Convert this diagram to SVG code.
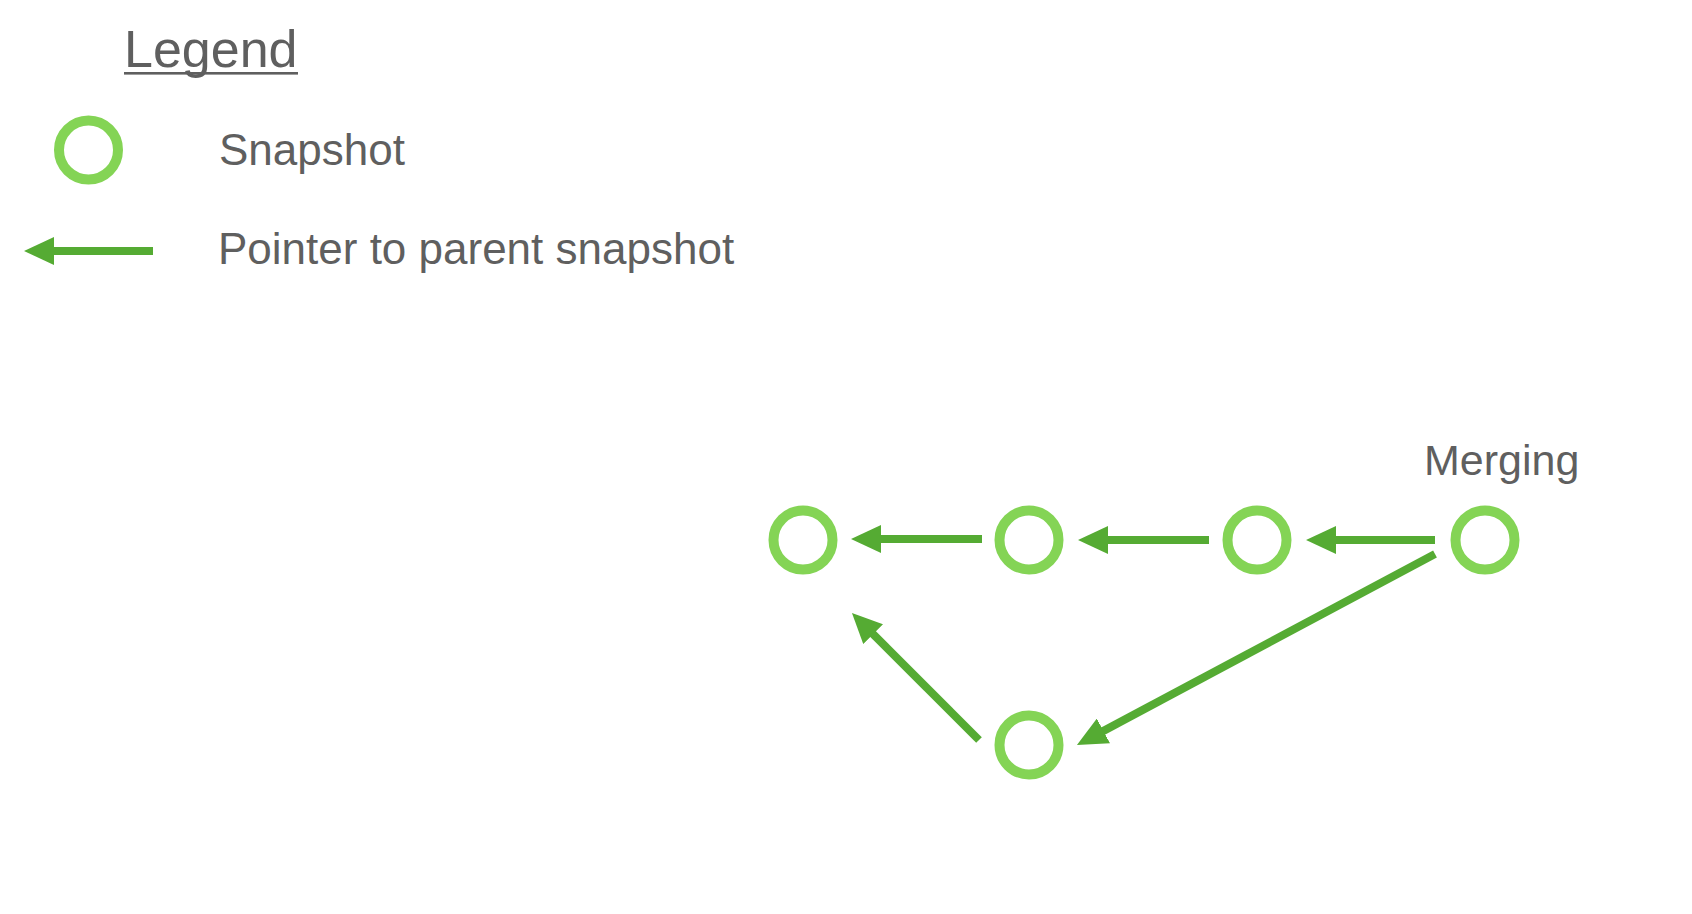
<svg xmlns="http://www.w3.org/2000/svg" width="1692" height="914" viewBox="0 0 1692 914">
<style>
.t{font-family:"Liberation Sans",Arial,sans-serif;fill:#5f5f5f}
.snap{fill:none;stroke:#84d455;stroke-width:10}
.ptr{stroke:#55ab33;stroke-width:8;fill:none}
</style>
<defs>
<marker id="ah" viewBox="0 0 30 28" refX="10" refY="14" markerWidth="30" markerHeight="28" markerUnits="userSpaceOnUse" orient="auto">
<path d="M0,0 L30,14 L0,28 z" fill="#55ab33" transform="rotate(0)"/>
</marker>
</defs>
<rect width="1692" height="914" fill="#ffffff"/>
<g id="legend">
<text class="t" x="124" y="67" font-size="52">Legend</text>
<rect x="124" y="72" width="174" height="2.6" fill="#5f5f5f"/>
<circle class="snap" cx="88.5" cy="150" r="29.5"/>
<text class="t" x="219" y="165" font-size="44">Snapshot</text>
<line class="ptr" x1="153" y1="251" x2="44" y2="251" marker-end="url(#ah)"/>
<text class="t" x="218" y="264" font-size="44">Pointer to parent snapshot</text>
</g>
<g id="n1"><circle class="snap" cx="803" cy="540" r="29.5"/></g>
<g id="n2"><circle class="snap" cx="1029" cy="540" r="29.5"/></g>
<g id="n3"><circle class="snap" cx="1257" cy="540" r="29.5"/></g>
<g id="n4"><circle class="snap" cx="1485" cy="540" r="29.5"/><text class="t" x="1424" y="475" font-size="43">Merging</text></g>
<g id="n5"><circle class="snap" cx="1029" cy="745" r="29.5"/></g>
<g id="connectors">
<line class="ptr" x1="982" y1="539" x2="871" y2="539" marker-end="url(#ah)"/>
<line class="ptr" x1="1209" y1="540" x2="1098" y2="540" marker-end="url(#ah)"/>
<line class="ptr" x1="1435" y1="540" x2="1326" y2="540" marker-end="url(#ah)"/>
<line class="ptr" x1="1435" y1="554" x2="1094.6" y2="735.6" marker-end="url(#ah)"/>
<line class="ptr" x1="979" y1="740" x2="866.1" y2="627.1" marker-end="url(#ah)"/>
</g>
</svg>
